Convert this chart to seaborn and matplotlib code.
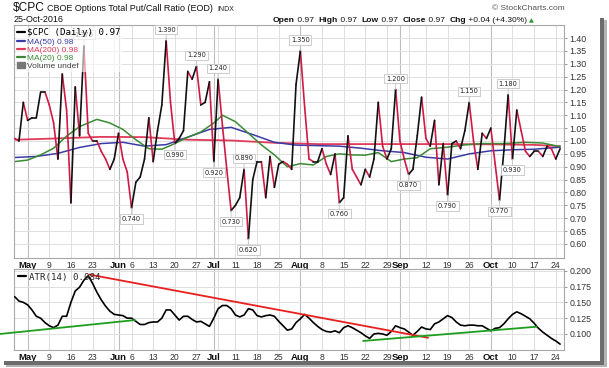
import numpy as np
import pandas as pd
import matplotlib
matplotlib.use('Agg')
import matplotlib.pyplot as plt
from matplotlib.lines import Line2D
from matplotlib.patches import Rectangle
import seaborn as sns

# $CPC daily closes, 27-Apr-2016 .. 25-Oct-2016 (trading days)
cpc = [
    1.01, 1.00, 1.15, 1.08, 1.09, 1.09, 1.19, 1.19, 1.14, 1.07,
    0.93, 1.26, 1.12, 0.76, 1.21, 1.02, 1.37, 1.03, 1.00, 1.00,
    0.96, 0.93, 0.89, 0.93, 1.03, 0.93, 0.88, 0.74, 0.84, 0.86,
    0.93, 1.09, 0.92, 1.04, 1.14, 1.39, 1.15, 0.99, 1.01, 1.04,
    1.27, 1.24, 1.29, 1.14, 1.15, 1.23, 0.92, 1.24, 1.06, 0.89,
    0.73, 0.75, 0.78, 0.89, 0.62, 0.85, 0.92, 0.92, 0.78, 0.94,
    0.82, 0.91, 0.92, 0.91, 0.89, 1.22, 1.35, 1.13, 0.93, 0.92,
    0.92, 0.97, 0.91, 0.87, 0.95, 0.76, 0.78, 1.02, 0.89, 0.86,
    0.83, 0.89, 0.86, 0.93, 1.15, 0.98, 0.93, 0.97, 1.20, 1.00,
    0.93, 0.87, 0.89, 1.02, 1.17, 1.01, 0.98, 1.08, 0.83, 0.99,
    0.79, 0.99, 1.00, 0.97, 1.04, 1.15, 1.00, 0.89, 1.03, 1.01,
    1.05, 0.91, 0.77, 0.96, 1.18, 0.93, 1.12, 1.04, 0.96, 0.94,
    0.96, 0.96, 0.94, 0.98, 0.97, 0.93, 0.97,
]
# days that carry a value tag (peaks tagged above, troughs below)
tag_high = [16, 35, 42, 47, 53, 66, 88, 105, 114]
tag_low = [27, 37, 46, 50, 54, 75, 91, 100, 112, 115]

# moving averages at the given day numbers
ma20_day = [0, 3, 6, 9, 12, 15, 19, 22, 25, 28, 31, 34, 37, 40, 43, 46, 48, 51, 54, 57,
            60, 63, 66, 69, 72, 75, 78, 81, 84, 87, 90, 93, 96, 100, 104, 108, 113, 118, 122, 126]
ma20 = [0.920, 0.926, 0.946, 0.972, 1.019, 1.056, 1.084, 1.070, 1.045, 1.005,
        0.970, 0.968, 0.990, 1.015, 1.035, 1.070, 1.100, 1.075, 1.030, 0.985,
        0.946, 0.900, 0.912, 0.907, 0.940, 0.950, 0.946, 0.945, 0.955, 0.920,
        0.930, 0.935, 0.970, 0.976, 0.985, 0.990, 0.990, 0.995, 0.992, 0.978]
ma50_day = [0, 5, 10, 15, 20, 25, 30, 35, 40, 45, 50, 55, 60, 65, 70, 75, 80, 85, 90,
            95, 100, 105, 110, 115, 120, 126]
ma50 = [0.936, 0.940, 0.952, 0.975, 0.990, 0.995, 0.980, 0.986, 1.015, 1.045,
        1.053, 1.025, 0.995, 0.984, 0.982, 0.980, 0.972, 0.962, 0.955, 0.937,
        0.930, 0.950, 0.962, 0.966, 0.968, 0.976]
ma200_day = [0, 10, 20, 30, 40, 50, 60, 70, 80, 90, 100, 110, 120, 126]
ma200 = [1.005, 1.010, 1.016, 1.015, 1.005, 1.002, 0.993, 0.988, 0.988, 0.988,
         0.988, 0.987, 0.985, 0.980]

# ATR(14), one value per trading day
atr = [
    0.159, 0.152, 0.150, 0.146, 0.138, 0.128, 0.125, 0.118, 0.113, 0.110,
    0.114, 0.128, 0.128, 0.150, 0.168, 0.174, 0.185, 0.192, 0.180, 0.166,
    0.154, 0.144, 0.136, 0.131, 0.130, 0.129, 0.125, 0.125, 0.120, 0.115,
    0.115, 0.118, 0.119, 0.119, 0.125, 0.138, 0.138, 0.130, 0.122, 0.128,
    0.128, 0.123, 0.119, 0.120, 0.116, 0.112, 0.125, 0.140, 0.145, 0.145,
    0.140, 0.130, 0.127, 0.130, 0.140, 0.138, 0.129, 0.127, 0.129, 0.130,
    0.128, 0.120, 0.113, 0.106, 0.108, 0.118, 0.124, 0.131, 0.125, 0.118,
    0.112, 0.107, 0.104, 0.103, 0.105, 0.102, 0.110, 0.113, 0.110, 0.106,
    0.102, 0.097, 0.093, 0.100, 0.101, 0.100, 0.098, 0.104, 0.113, 0.110,
    0.108, 0.103, 0.098, 0.104, 0.111, 0.108, 0.107, 0.116, 0.119, 0.124,
    0.129, 0.126, 0.119, 0.114, 0.113, 0.114, 0.114, 0.113, 0.113, 0.109,
    0.105, 0.109, 0.110, 0.116, 0.124, 0.131, 0.135, 0.132, 0.128, 0.124,
    0.117, 0.109, 0.103, 0.098, 0.093, 0.089, 0.084,
]
# hand-drawn trendlines on the ATR panel (day, value)
trend_red_day, trend_red = [17.2, 95.5], [0.194, 0.094]
trend_green1_day, trend_green1 = [-3.4, 27.8], [0.100, 0.122]
trend_green2_day, trend_green2 = [80.5, 120.6], [0.089, 0.1115]

holidays = ['2016-05-30', '2016-07-04', '2016-09-05']
dates = pd.bdate_range('2016-04-27', '2016-10-25', freq='C', holidays=holidays)

UP, DOWN = '#111111', '#cf1a45'
BLUE, RED, GREEN = '#3b3ba8', '#e03a5a', '#3a8a34'

sns.set_style('white')
plt.rcParams['font.family'] = ['Liberation Sans', 'DejaVu Sans']

W, H = 609, 368
fig = plt.figure(figsize=(W / 100, H / 100), dpi=100)


def box(l, t, r, b):
    return [l / W, 1 - b / H, (r - l) / W, (b - t) / H]


ax = fig.add_axes(box(14, 25, 564, 258))
ax2 = fig.add_axes(box(14, 269, 564, 350), sharex=ax)

# week / month gridlines and labels
n = len(dates)
week_first = [i for i in range(1, n) if dates[i].weekday() < dates[i - 1].weekday()]
month_first = [i for i in range(1, n) if dates[i].month != dates[i - 1].month]
mondays = [i for i in range(n) if dates[i].weekday() == 0 and i not in month_first]
tick_pos = sorted(month_first + mondays)
tick_lab = [dates[i].strftime('%b') if i in month_first else str(dates[i].day) for i in tick_pos]

for a in (ax, ax2):
    for i in week_first:
        if i not in month_first:
            a.axvline(i, color='#dedede', lw=0.7, zorder=0)
    for i in month_first:
        a.axvline(i, color='#bdbdbd', lw=0.8, zorder=0)
    a.yaxis.grid(True, color='#e0e0e0', lw=0.7, zorder=0)
    a.set_axisbelow(True)
    for s in a.spines.values():
        s.set_color('#a8a8a8')
        s.set_linewidth(0.8)
    a.yaxis.tick_right()
    a.tick_params(axis='y', length=2.5, width=0.6, color='#888888', pad=1.5,
                  labelsize=6.3, labelcolor='#333333')
    a.tick_params(axis='x', length=0, pad=1.8, labelsize=6.2, labelcolor='#333333')

# main panel: moving averages under the price line
sns.lineplot(x=ma200_day, y=ma200, color=RED, lw=1.3, ax=ax, zorder=2)
sns.lineplot(x=ma50_day, y=ma50, color=BLUE, lw=1.1, ax=ax, zorder=2)
sns.lineplot(x=ma20_day, y=ma20, color=GREEN, lw=1.1, ax=ax, zorder=2)

day = np.arange(n)
vals = np.array(cpc)
step = np.where(np.diff(vals) >= 0, 'up', 'down')
seg = pd.DataFrame({
    'day': np.r_[day[:-1], day[1:]],
    'val': np.r_[vals[:-1], vals[1:]],
    'seg': np.r_[day[:-1], day[:-1]],
    'dir': np.r_[step, step],
})
sns.lineplot(data=seg, x='day', y='val', units='seg', estimator=None, hue='dir',
             palette={'up': UP, 'down': DOWN}, lw=1.2, legend=False, ax=ax, zorder=3)

for idx_list, off in ((tag_high, 11), (tag_low, -11)):
    for i in idx_list:
        ax.annotate(f'{cpc[i]:.3f}', xy=(i, cpc[i]), xytext=(0, off),
                    textcoords='offset pixels', ha='center', va='center',
                    fontsize=4.8, family='DejaVu Sans', color='#222222',
                    bbox=dict(boxstyle='square,pad=0.25', fc='white', ec='#c4c4c4', lw=0.6),
                    arrowprops=dict(arrowstyle='-', color='#c4c4c4', lw=0.6,
                                    shrinkA=0, shrinkB=0), zorder=4)

ax.set_xlim(-0.15, 126.9)
ax.set_ylim(0.5456, 1.4505)
ax.set_yticks(np.arange(0.60, 1.401, 0.05))
ax.set_yticklabels([f'{v:.2f}' for v in np.arange(0.60, 1.401, 0.05)])
ax.set_xlabel('')
ax.set_ylabel('')

handles = [Line2D([], [], color=c, lw=1.6) for c in ('black', BLUE, RED, GREEN)]
handles.append(Rectangle((0, 0), 1, 1, color='#777777'))
leg_labels = [f'\\$CPC (Daily) {cpc[-1]:.2f}', f'MA(50) {ma50[-1]:.2f}',
              f'MA(200) {ma200[-1]:.2f}', f'MA(20) {ma20[-1]:.2f}', 'Volume undef']
leg = ax.legend(handles, leg_labels, loc='upper left', bbox_to_anchor=(0.0, 1.0),
                fontsize=6.0, handlelength=0.9, handletextpad=0.25, labelspacing=0.05,
                borderpad=0.2, borderaxespad=0.2, frameon=True, framealpha=0.6,
                edgecolor='none', facecolor='white', fancybox=False)
leg.set_zorder(6)
for t, c in zip(leg.get_texts(), ('black', BLUE, RED, GREEN, '#444444')):
    t.set_color(c)
leg.get_texts()[0].set_family('DejaVu Sans Mono')
leg.get_texts()[0].set_fontsize(6.6)

# ATR panel
sns.lineplot(x=day, y=atr, color='black', lw=1.2, ax=ax2, zorder=3)
ax2.plot(trend_red_day, trend_red, color='#e8201e', lw=1.3, zorder=4)
ax2.plot(trend_green1_day, trend_green1, color='#1e9e1e', lw=1.3, zorder=4, clip_on=False)
ax2.plot(trend_green2_day, trend_green2, color='#1e9e1e', lw=1.3, zorder=4)
ax2.set_ylim(0.0747, 0.2027)
ax2.set_yticks(np.arange(0.100, 0.2001, 0.025))
ax2.set_yticklabels([f'{v:.3f}' for v in np.arange(0.100, 0.2001, 0.025)])
ax2.set_xlabel('')
ax2.set_ylabel('')
ax2.legend([Line2D([], [], color='black', lw=1.6)], [f'ATR(14) {atr[-1]:.3f}'],
           loc='upper left', bbox_to_anchor=(0.0, 1.0),
           handlelength=0.9, handletextpad=0.3, borderpad=0.2, borderaxespad=0.2,
           frameon=False, prop={'family': 'DejaVu Sans Mono', 'size': 6.6})

for a in (ax, ax2):
    a.set_xticks(tick_pos)
    a.set_xticklabels(tick_lab)
    for t, i in zip(a.get_xticklabels(), tick_pos):
        if i in month_first:
            t.set_fontweight('bold')
            t.set_color('#111111')
            t.set_fontsize(6.8)

# header
def px(x, y):
    return x / W, 1 - y / H


fig.text(*px(13, 10.8), '\\$CPC', fontsize=8.6, va='baseline', color='#111111')
fig.text(*px(47, 10.8), 'CBOE Options Total Put/Call Ratio (EOD)', fontsize=6.5,
         va='baseline', color='#111111')
fig.text(*px(217, 10.8), 'INDX', fontsize=5.0, va='baseline', color='#222222')
fig.text(*px(14, 21.7), '25-Oct-2016', fontsize=6.5, va='baseline', color='#111111')
fig.text(*px(565, 10.5), '\u00a9 StockCharts.com', fontsize=6.0, va='baseline',
         ha='right', color='#555555')

pieces = [('Open', 'bold'), (' 0.97  ', 'normal'), ('High', 'bold'), (' 0.97  ', 'normal'),
          ('Low', 'bold'), (' 0.97  ', 'normal'), ('Close', 'bold'), (' 0.97  ', 'normal'),
          ('Chg', 'bold'), (' +0.04 (+4.30%)', 'normal')]
prev = fig.text(*px(273, 21.7), pieces[0][0], fontsize=6.1, fontweight='bold',
                va='baseline', color='#111111')
for txt, wt in pieces[1:]:
    prev = ax.annotate(txt, xy=(1, 0), xycoords=prev, ha='left', va='bottom',
                       fontsize=6.1, fontweight=wt, color='#111111', annotation_clip=False)
ax.annotate(' \u25b2', xy=(1, 0), xycoords=prev, ha='left', va='bottom', fontsize=4.5,
            family='DejaVu Sans', color='#2a9a2a', annotation_clip=False)

# drop shadow of the pasted screenshot
for rect, col in (((600, 18, 604, 366), '#6c6c6c'), ((604, 20, 607, 367), '#b4b4b4'),
                  ((4, 361, 604, 365), '#6c6c6c'), ((6, 365, 607, 367), '#b4b4b4')):
    l, t, r, b = rect
    fig.add_artist(Rectangle((l / W, 1 - b / H), (r - l) / W, (b - t) / H,
                             transform=fig.transFigure, color=col, lw=0))

fig.savefig('out.png', dpi=100)
